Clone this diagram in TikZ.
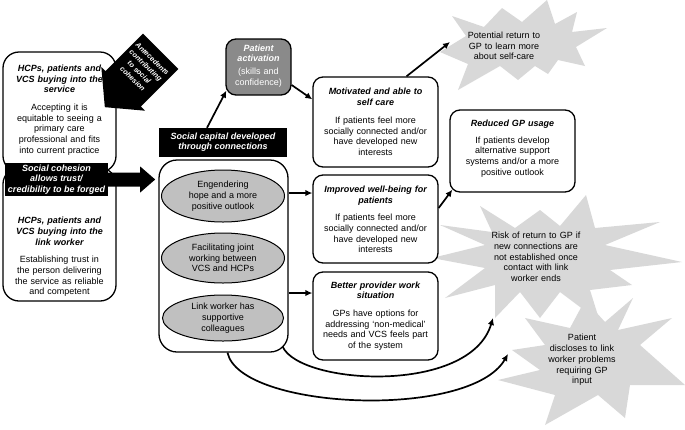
\documentclass[tikz,border=0pt]{standalone}
\usepackage{fontspec}
\setmainfont{Liberation Sans}
\usetikzlibrary{shapes.geometric,arrows.meta,calc}
\definecolor{burstgray}{RGB}{216,216,216}
\definecolor{ellgray}{RGB}{192,192,192}
\definecolor{actgray}{RGB}{138,138,138}
\begin{document}
\begin{tikzpicture}[x=1pt,y=-1pt,
  txt/.style={font=\fontsize{9}{10.7}\selectfont, align=center, inner sep=0pt, text width=130pt},
  box/.style={draw, line width=1.3pt, rounded corners=10pt, fill=white},
  bann/.style={fill=black, text=white, align=center, inner sep=0pt, font=\fontsize{9}{10.2}\selectfont\bfseries\itshape},
  ell/.style={ellipse, draw, line width=1pt, fill=ellgray, inner sep=0pt, align=center, font=\fontsize{9}{10.7}\selectfont},
  arr/.style={line width=1.7pt, -{Latex[length=7pt,width=6.5pt]}},
  burst/.style={fill=burstgray}]
\useasboundingbox (0,0) rectangle (685,429);

% starbursts
\fill[burst] (547,0) -- (555,24) -- (577,12) -- (572,32) -- (607,28) -- (576,47) -- (585,66) -- (558,60) -- (548,74) -- (535,66) -- (518,80) -- (500,66) -- (458,90) -- (468,64) -- (440,52) -- (466,36) -- (452,16) -- (484,27) -- (502,8) -- (522,22) -- cycle;
\fill[burst] (480,206) -- (515,228) -- (540,210) -- (560,226) -- (586,195) -- (595,228) -- (660,222) -- (605,245) -- (682,262) -- (610,270) -- (632,285) -- (590,290) -- (600,322) -- (560,292) -- (540,318) -- (520,292) -- (495,318) -- (495,285) -- (445,298) -- (485,268) -- (432,258) -- (485,245) -- (440,225) -- (492,232) -- cycle;
\fill[burst] (633,298) -- (618,330) -- (672,318) -- (640,345) -- (685,385) -- (630,385) -- (625,418) -- (598,395) -- (545,425) -- (555,395) -- (498,380) -- (540,370) -- (512,350) -- (545,345) -- (525,318) -- (570,328) -- (585,300) -- (605,322) -- cycle;
\node[txt] (b1t) at (504,46) {Potential return to\\GP to learn more\\about self-care};
\node[txt] (b2t) at (536,257) {Risk of return to GP if\\new connections are\\not established once\\contact with link\\worker ends};
\node[txt] (b3t) at (582,360) {Patient\\discloses to link\\worker problems\\requiring GP\\input};
\coordinate (b1in) at (450,42);
\coordinate (b2in) at (493,318);
\coordinate (b3in) at (508,354);

% left boxes
\node[box, rounded corners=16pt, minimum width=113pt, minimum height=120pt] (lt) at (59.5,112) {};
\node[box, rounded corners=16pt, minimum width=113pt, minimum height=133pt] (lb) at (59.5,234.5) {};
\node[txt] (ltt) at (59.5,110) {{\bfseries\itshape HCPs, patients and\\VCS buying into the\\service}\\[7pt]Accepting it is\\equitable to seeing a\\primary care\\professional and fits\\into current practice};
\node[txt] (lbt) at (59.5,257) {{\bfseries\itshape HCPs, patients and\\VCS buying into the\\link worker}\\[7pt]Establishing trust in\\the person delivering\\the service as reliable\\and competent};
\node[bann, minimum width=103pt, minimum height=33pt] (sc) at (56.5,179.5) {Social cohesion\\allows trust/\\credibility to be forged};
\fill ($(sc.east)+(0,-7)$) -- ($(sc.east)+(32,-7)$) -- ($(sc.east)+(32,-13)$) -- ($(sc.east)+(47,0)$) -- ($(sc.east)+(32,13)$) -- ($(sc.east)+(32,7)$) -- ($(sc.east)+(0,7)$) -- cycle;

% antecedents arrow
\coordinate (antc) at (141.6,70.4);
\fill[shift={(antc)}, rotate=-45] (-25,-27) -- (25,-27) -- (25,26) -- (31,26) -- (0,52) -- (-31,26) -- (-25,26) -- cycle;
\node[bann, rotate=-44, font=\fontsize{7.2}{9.4}\selectfont\bfseries\itshape] (ant) at ([xshift=1pt,yshift=1.5pt]antc) {Antecedents\\contributing\\to social\\cohesion};

% centre
\node[box, fill=actgray, minimum width=65pt, minimum height=56pt] (pa) at (258.5,67) {};
\node[txt, text=white] (pat) at (258.5,66) {{\bfseries\itshape Patient\\activation}\\[2pt](skills and\\confidence)};
\node[bann, minimum width=128pt, minimum height=29pt] (scap) at (223,142.5) {Social capital developed\\through connections};
\node[box, rounded corners=18pt, minimum width=129pt, minimum height=192pt] (cont) at (223.5,256) {};
\node[ell, minimum width=123pt, minimum height=52pt] (e1) at (223,196) {Engendering\\hope and a more\\positive outlook};
\node[ell, minimum width=123pt, minimum height=50pt] (e2) at (223,258) {Facilitating joint\\working between\\VCS and HCPs};
\node[ell, minimum width=121pt, minimum height=46pt] (e3) at (223,318) {Link worker has\\supportive\\colleagues};

% right boxes
\node[box, minimum width=125pt, minimum height=90pt] (mot) at (375.5,122) {};
\node[txt] (mott) at (375.5,122) {{\bfseries\itshape Motivated and able to\\self care}\\[7pt]If patients feel more\\socially connected and/or\\have developed new\\interests};
\node[box, minimum width=125pt, minimum height=88pt] (imp) at (375.5,219) {};
\node[txt] (impt) at (375.5,219.5) {{\bfseries\itshape Improved well-being for\\patients}\\[7pt]If patients feel more\\socially connected and/or\\have developed new\\interests};
\node[box, minimum width=125pt, minimum height=88pt] (bet) at (375.5,316) {};
\node[txt] (bett) at (375.5,316) {{\bfseries\itshape Better provider work\\situation}\\[7pt]GPs have options for\\addressing ‘non-medical’\\needs and VCS feels part\\of the system};
\node[box, minimum width=125pt, minimum height=82pt] (red) at (512.5,151) {};
\node[txt] (redt) at (512.5,148.5) {{\bfseries\itshape Reduced GP usage}\\[6pt]If patients develop\\alternative support\\systems and/or a more\\positive outlook};

% connectors
\draw[arr] ([xshift=-16pt]scap.north) -- ([xshift=1pt,yshift=5pt]pa.south west);
\draw[arr] ([yshift=-18pt]pa.east) -- ([yshift=-23pt]mot.north west);
\coordinate (a1) at ([yshift=26pt]imp.west);
\draw[arr] (cont.east |- a1) -- (a1);
\coordinate (a2) at ([yshift=23pt]bet.west);
\draw[arr] (cont.east |- a2) -- (a2);
\draw[arr] ([yshift=11pt]imp.east) -- ([xshift=3pt,yshift=3pt]red.south west);
\draw[arr] ([xshift=31pt]mot.north) -- (b1in);
\draw[arr] ([xshift=-6pt,yshift=6pt]cont.south east) .. controls (300,385) and (470,395) .. (b2in);
\draw[arr] ([xshift=4pt]cont.south) .. controls (240,410) and (470,420) .. (b3in);
\end{tikzpicture}
\end{document}
